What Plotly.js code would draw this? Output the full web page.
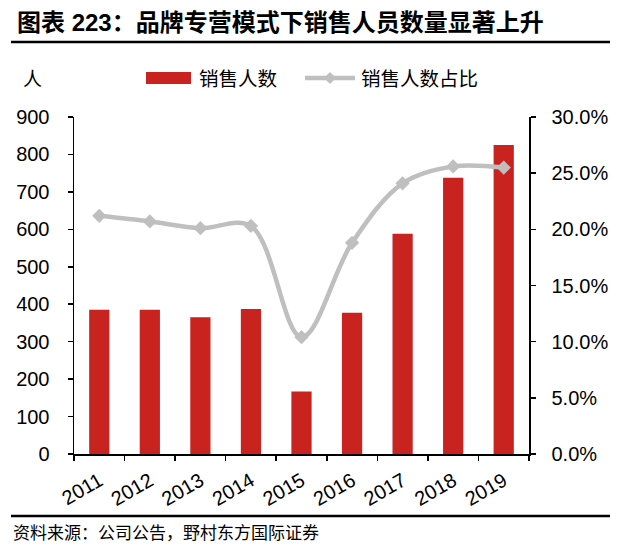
<!DOCTYPE html>
<html>
<head>
<meta charset="utf-8">
<script src="https://cdn.plot.ly/plotly-3.0.1.min.js"></script>
<style>
  body { margin: 0; background: #fff; }
  #chart { width: 627px; height: 559px; }
</style>
</head>
<body>
<div id="chart"></div>
<script>
// chart data
var years = ['2011', '2012', '2013', '2014', '2015', '2016', '2017', '2018', '2019'];
var salesStaff = [385, 385, 365, 387, 167, 377, 588, 738, 825];
var staffShare = [0.212, 0.207, 0.201, 0.203, 0.104, 0.188, 0.241, 0.256, 0.255];
var seriesNames = ['销售人数', '销售人数占比'];
var chartTitle = '图表 223：品牌专营模式下销售人员数量显著上升';
var sourceNote = '资料来源：公司公告，野村东方国际证券';
var unitLabel = '人';

var W = 627, H = 559;
var M = {l: 74, r: 98, t: 117, b: 105};
var RED = '#C8231F';
var GREY = '#BFBFBF';
var NUM_FONT = 'Liberation Sans, Arial, sans-serif';
var CJK_FONT = 'Noto Sans CJK SC, sans-serif';

// pixel -> paper coords, for the page furniture outside the plot
function px(x){ return (x - M.l) / (W - M.l - M.r); }
function py(y){ return (H - M.b - y) / (H - M.t - M.b); }

var bars = {
  x: years,
  y: salesStaff,
  name: seriesNames[0],
  type: 'bar',
  width: 0.4,
  marker: {color: RED},
  hoverinfo: 'x+y'
};

var share = {
  x: years,
  y: staffShare,
  name: seriesNames[1],
  type: 'scatter',
  mode: 'lines+markers',
  yaxis: 'y2',
  line: {color: GREY, width: 4.5, shape: 'spline', smoothing: 1},
  marker: {symbol: 'diamond', size: 11, color: GREY}
};

var axisLine = {showline: true, linecolor: '#000', linewidth: 1.5, ticks: 'outside',
  ticklen: 5, tickwidth: 1.5, tickcolor: '#000', showgrid: false, zeroline: false};

var layout = {
  width: W,
  height: H,
  margin: M,
  showlegend: false,
  paper_bgcolor: '#fff',
  plot_bgcolor: '#fff',
  bargap: 0.6,
  font: {family: NUM_FONT, size: 20, color: '#000'},
  xaxis: Object.assign({}, axisLine, {
    type: 'category',
    range: [-0.5, 8.5],
    tickson: 'boundaries',
    tickangle: -30,
    tickfont: {family: NUM_FONT, size: 20},
    ticklabelstandoff: 6
  }),
  yaxis: Object.assign({}, axisLine, {
    range: [0, 900],
    dtick: 100,
    tickfont: {family: NUM_FONT, size: 20},
    ticklabelstandoff: 14
  }),
  yaxis2: Object.assign({}, axisLine, {
    overlaying: 'y',
    side: 'right',
    range: [0, 0.3],
    dtick: 0.05,
    tickformat: '.1%',
    tickfont: {family: NUM_FONT, size: 20},
    ticklabelstandoff: 12
  }),
  shapes: [
    // rule under the title and above the source
    {type: 'line', xref: 'paper', yref: 'paper', x0: px(11), x1: px(610), y0: py(42), y1: py(42),
     line: {color: '#000', width: 2.5}},
    {type: 'line', xref: 'paper', yref: 'paper', x0: px(11), x1: px(610), y0: py(516), y1: py(516),
     line: {color: '#000', width: 2.5}},
    // legend swatches
    {type: 'rect', xref: 'paper', yref: 'paper', x0: px(146), x1: px(191), y0: py(72), y1: py(84),
     fillcolor: RED, line: {width: 0}},
    {type: 'line', xref: 'paper', yref: 'paper', x0: px(305), x1: px(355), y0: py(78), y1: py(78),
     line: {color: GREY, width: 4.5}},
    {type: 'path', xref: 'paper', yref: 'paper',
     path: 'M ' + px(330) + ' ' + py(72) + ' L ' + px(336) + ' ' + py(78) + ' L ' + px(330) + ' ' + py(84) +
           ' L ' + px(324) + ' ' + py(78) + ' Z',
     fillcolor: GREY, line: {width: 0}}
  ],
  annotations: [
    {text: '<b>' + chartTitle + '</b>', xref: 'paper', yref: 'paper', x: px(15), y: py(23),
     xanchor: 'left', yanchor: 'middle', showarrow: false,
     font: {family: 'Liberation Sans, Noto Sans CJK SC, sans-serif', size: 24, color: '#000'}},
    {text: unitLabel, xref: 'paper', yref: 'paper', x: px(21), y: py(78),
     xanchor: 'left', yanchor: 'middle', showarrow: false,
     font: {family: CJK_FONT, size: 19, color: '#000'}},
    {text: seriesNames[0], xref: 'paper', yref: 'paper', x: px(197), y: py(78),
     xanchor: 'left', yanchor: 'middle', showarrow: false,
     font: {family: CJK_FONT, size: 19.5, color: '#000'}},
    {text: seriesNames[1], xref: 'paper', yref: 'paper', x: px(359), y: py(78),
     xanchor: 'left', yanchor: 'middle', showarrow: false,
     font: {family: CJK_FONT, size: 19.5, color: '#000'}},
    {text: sourceNote, xref: 'paper', yref: 'paper', x: px(11), y: py(531),
     xanchor: 'left', yanchor: 'middle', showarrow: false,
     font: {family: CJK_FONT, size: 17, color: '#000'}}
  ]
};

Plotly.newPlot('chart', [bars, share], layout, {displayModeBar: false, staticPlot: true});
</script>
</body>
</html>
